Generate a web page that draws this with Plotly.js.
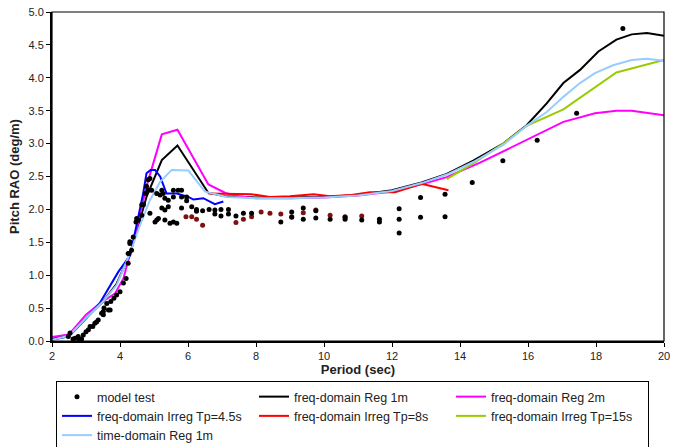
<!DOCTYPE html>
<html><head><meta charset="utf-8">
<script src="https://cdn.plot.ly/plotly-3.0.1.min.js"></script>
<style>body{margin:0;background:#fff}#chart{width:678px;height:447px}</style>
</head><body><div id="chart"></div>
<script>
// Model test (black dots)
const mtX = [2.48,2.53,2.62,2.68,2.77,2.80,2.87,2.92,3.00,3.07,3.12,3.20,3.26,3.31,3.36,3.46,3.51,3.51,3.53,3.61,3.66,3.71,3.73,3.82,3.90,4.00,4.10,4.18,4.24,4.24,4.26,4.29,4.29,4.34,4.39,4.47,4.49,4.54,4.64,4.64,4.69,4.74,4.78,4.83,4.83,4.88,4.88,4.93,5.03,5.08,5.08,5.13,5.18,5.23,5.23,5.27,5.32,5.32,5.32,5.42,5.42,5.47,5.57,5.57,5.57,5.67,5.71,5.81,5.81,5.81,5.96,5.96,6.11,6.25,6.25,6.43,6.62,6.79,6.79,6.97,6.97,7.19,7.19,7.41,7.63,7.87,8.73,9.05,9.05,9.39,9.39,9.76,9.76,10.18,10.62,10.62,11.11,11.63,11.63,12.21,12.21,12.21,12.84,12.84,13.56,13.56,14.36,15.26,16.27,17.43,18.79];
const mtY = [0.07,0.12,0.03,0.04,0.07,0.01,0.03,0.09,0.14,0.17,0.22,0.22,0.27,0.29,0.32,0.42,0.40,0.45,0.50,0.57,0.47,0.47,0.60,0.65,0.70,0.75,0.88,0.95,1.18,1.33,1.33,1.48,1.51,1.38,1.58,1.81,1.86,1.84,1.91,2.07,2.07,2.24,2.35,2.29,2.45,2.47,1.94,2.29,1.81,2.24,1.84,1.86,2.22,2.29,2.02,2.24,2.17,1.99,1.84,2.14,2.04,1.79,2.29,2.19,1.81,1.79,2.29,2.29,2.19,2.02,2.19,2.13,2.04,2.00,1.97,1.98,2.00,1.99,1.93,2.00,1.90,2.00,1.93,1.90,1.94,1.94,1.81,1.96,1.88,2.02,1.85,1.98,1.87,1.85,1.88,1.85,1.84,1.85,1.81,2.01,1.85,1.64,2.18,1.88,2.23,1.89,2.41,2.74,3.05,3.46,4.75];
// Additional test points (dark red, not in legend)
const redPtX = [5.94,6.11,6.25,6.43,7.41,7.63,7.87,8.15,8.41,8.73,9.05,9.39,9.76,10.18,10.62,11.11];
const redPtY = [1.89,1.89,1.85,1.76,1.80,1.85,1.89,1.96,1.94,1.93,1.89,1.95,1.99,1.91,1.89,1.90];

const reg1X = [2.0,2.5,3.0,3.5,3.9,4.3,4.78,5.23,5.69,6.15,6.6,7.1,8.0,9.0,10.0,11.0,12.0,12.87,13.61,14.39,14.59,15.27,15.96,16.55,17.04,17.53,18.07,18.6,19.05,19.5,20.0];
const reg1Y = [0.03,0.10,0.35,0.60,0.87,1.33,2.19,2.75,2.97,2.60,2.25,2.20,2.18,2.18,2.19,2.22,2.29,2.41,2.54,2.74,2.80,3.00,3.28,3.61,3.92,4.12,4.40,4.58,4.66,4.68,4.64];

const reg2X = [2.0,2.5,3.0,3.4,3.85,4.1,4.5,4.78,5.23,5.69,6.6,7.1,7.5,8.0,9.0,10.0,11.0,12.0,12.87,13.61,14.59,15.27,16.26,17.04,17.97,18.6,19.05,20.0];
const reg2Y = [0.06,0.10,0.40,0.57,0.72,0.95,1.72,2.35,3.14,3.21,2.38,2.25,2.20,2.17,2.17,2.18,2.21,2.27,2.38,2.49,2.71,2.88,3.13,3.33,3.46,3.50,3.50,3.43];

const irr45X = [2.0,2.5,3.0,3.4,3.95,4.3,4.68,4.78,4.9,5.03,5.18,5.37,5.67,6.01,6.16,6.45,6.79,7.04];
const irr45Y = [0.02,0.07,0.34,0.57,1.05,1.30,2.24,2.55,2.60,2.60,2.50,2.24,2.24,2.19,2.15,2.17,2.08,2.12];

const irr8X = [6.6,7.24,7.87,8.41,9.0,9.69,10.18,10.8,11.35,12.09,12.87,13.66];
const irr8Y = [2.24,2.24,2.23,2.19,2.20,2.23,2.20,2.22,2.26,2.26,2.39,2.29];

const irr15X = [13.61,14.39,15.27,15.96,17.04,18.6,20.0];
const irr15Y = [2.46,2.70,3.00,3.27,3.52,4.08,4.27];

const tdX = [2.0,2.5,3.0,3.5,3.9,4.29,4.59,4.88,5.18,5.52,6.01,6.5,7.14,8.0,9.0,10.0,11.0,12.0,12.87,13.61,14.39,15.27,15.96,16.55,17.04,17.53,17.97,18.5,19.05,19.49,20.0];
const tdY = [0.02,0.08,0.35,0.60,0.85,1.33,1.76,2.14,2.42,2.60,2.59,2.27,2.19,2.17,2.17,2.18,2.21,2.28,2.40,2.53,2.72,2.98,3.27,3.48,3.71,3.92,4.07,4.19,4.27,4.29,4.26];

const xTicks = [2,4,6,8,10,12,14,16,18,20];
const yTicks = [0,0.5,1,1.5,2,2.5,3,3.5,4,4.5,5];

function line(x,y,name,color,rank){
  return {x:x,y:y,name:name,type:'scatter',mode:'lines',line:{color:color,width:2},legendrank:rank};
}
const traces = [
  line(reg1X,reg1Y,'freq-domain Reg 1m','#000000',2),
  line(reg2X,reg2Y,'freq-domain Reg 2m','#FF00FF',3),
  line(irr45X,irr45Y,'freq-domain Irreg Tp=4.5s','#0000FF',4),
  line(irr8X,irr8Y,'freq-domain Irreg Tp=8s','#FF0000',5),
  line(irr15X,irr15Y,'freq-domain Irreg Tp=15s','#99CC00',6),
  line(tdX,tdY,'time-domain Reg 1m','#99CCFF',7),
  {x:redPtX,y:redPtY,type:'scatter',mode:'markers',marker:{color:'#7F1010',size:5},showlegend:false},
  {x:mtX,y:mtY,name:'model test',type:'scatter',mode:'markers',marker:{color:'#000000',size:5},legendrank:1}
];
const font = {family:'Liberation Sans, Arial, sans-serif',color:'#222'};
const layout = {
  width:678,height:447,
  margin:{l:52,r:14,t:12,b:106},
  paper_bgcolor:'#fff',plot_bgcolor:'#fff',
  font:Object.assign({size:11},font),
  showlegend:true,
  xaxis:{range:[2,20],tickvals:xTicks,ticktext:xTicks.map(String),showgrid:false,zeroline:false,
    showline:true,linecolor:'#000',linewidth:2,ticks:'outside',ticklen:4,tickcolor:'#000',
    title:{text:'<b>Period (sec)</b>',font:Object.assign({size:13},font),standoff:4},tickfont:{size:11}},
  yaxis:{range:[0,5],tickvals:yTicks,ticktext:yTicks.map(v=>v.toFixed(1)),showgrid:false,zeroline:false,
    showline:true,linecolor:'#000',linewidth:2,ticks:'outside',ticklen:4,tickcolor:'#000',
    title:{text:'<b>Pitch RAO (deg/m)</b>',font:Object.assign({size:13},font),standoff:6},tickfont:{size:11}},
  shapes:[{type:'rect',xref:'paper',yref:'paper',x0:0,x1:1,y0:0,y1:1,line:{color:'#000',width:1.2},layer:'above'}],
  legend:{orientation:'h',xref:'container',yref:'container',x:56/678,xanchor:'left',y:(447-381)/447,yanchor:'top',
    bordercolor:'#000',borderwidth:1,bgcolor:'#fff',font:Object.assign({size:12.5},font),
    entrywidth:152,entrywidthmode:'pixels',itemwidth:30,tracegroupgap:0,traceorder:'normal'}
};
Plotly.newPlot('chart',traces,layout,{displayModeBar:false,staticPlot:true});
</script></body></html>
